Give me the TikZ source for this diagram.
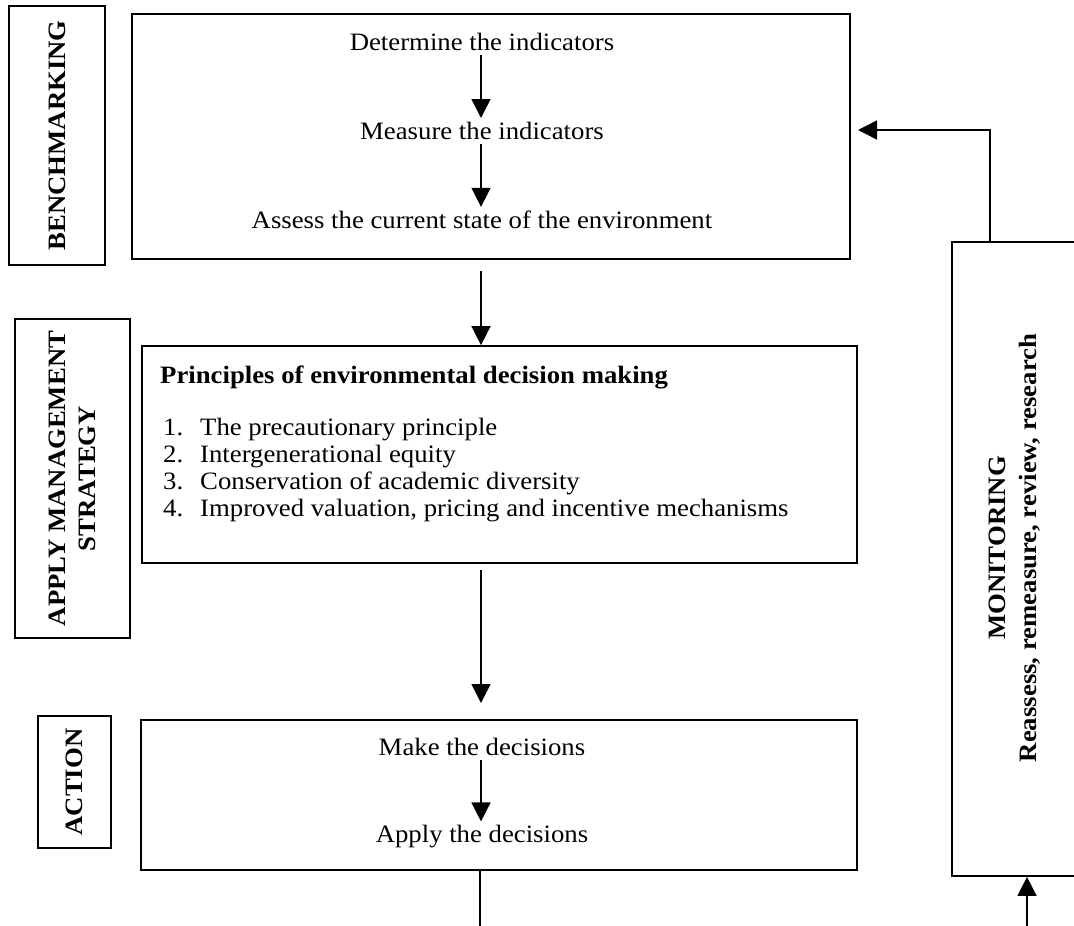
\documentclass[tikz,border=0pt]{standalone}
\usepackage{fontspec}
\setmainfont{Liberation Serif}[FakeStretch=1.07]
\usetikzlibrary{arrows.meta}
\begin{document}
\begin{tikzpicture}[x=1pt,y=-1pt,
  box/.style={draw,line width=1.7pt,rectangle,inner sep=0pt},
  lbl/.style={box,font=\fontsize{25}{29}\selectfont\bfseries,align=center},
  txt/.style={font=\fontsize{25}{29}\selectfont,inner sep=4pt},
  arr/.style={line width=1.5pt,-{Triangle[length=19pt,width=19pt]}},
  conn/.style={line width=1.7pt}]
\useasboundingbox (0,0) rectangle (1074,926);
\clip (0,0) rectangle (1074,926);
\fill[white] (0,0) rectangle (1074,926);
% left labels
\node[lbl,minimum width=96pt,minimum height=259pt] (bench) at (57,135.5) {};
\node[font=\fontsize{25}{29}\selectfont\bfseries,rotate=90] (benchT) at (bench.center) {BENCHMARKING};
\node[lbl,minimum width=115pt,minimum height=319pt] (apply) at (72.5,478.5) {};
\node[font=\fontsize{25}{30}\selectfont\bfseries,rotate=90,align=center] (applyT) at (apply.center) {APPLY MANAGEMENT\\STRATEGY};
\node[lbl,minimum width=73pt,minimum height=132pt] (action) at (74.5,782) {};
\node[font=\fontsize{25}{29}\selectfont\bfseries,rotate=90] (actionT) at (action.center) {ACTION};
% box 1
\node[box,minimum width=718pt,minimum height=245pt] (box1) at (491,136.5) {};
\node[txt] (t1) at (482,42) {Determine the indicators};
\node[txt] (t2) at (482,131) {Measure the indicators};
\node[txt] (t3) at (482,220) {Assess the current state of the environment};
\draw[arr] (t1.south -| 481,0) -- (t2.north -| 481,0);
\draw[arr] (t2.south -| 481,0) -- (t3.north -| 481,0);
% box 2
\node[box,minimum width=715pt,minimum height=217pt] (box2) at (499.5,454.5) {};
\node[txt,anchor=base west,font=\fontsize{25}{29}\selectfont\bfseries] (head) at (156,383) {Principles of environmental decision making};
\node[txt,anchor=base west] (n1) at (159,435) {1.};
\node[txt,anchor=base west] (n2) at (159,462) {2.};
\node[txt,anchor=base west] (n3) at (159,489) {3.};
\node[txt,anchor=base west] (n4) at (159,516) {4.};
\node[txt,anchor=base west] (i1) at (196,435) {The precautionary principle};
\node[txt,anchor=base west] (i2) at (196,462) {Intergenerational equity};
\node[txt,anchor=base west] (i3) at (196,489) {Conservation of academic diversity};
\node[txt,anchor=base west] (i4) at (196,516) {Improved valuation, pricing and incentive mechanisms};
% box 3
\node[box,minimum width=716pt,minimum height=150pt] (box3) at (499,795) {};
\node[txt] (t4) at (482,747) {Make the decisions};
\node[txt] (t5) at (482,837) {Apply the decisions};
\draw[arr] (t4.south -| 481,0) -- (t5.north -| 481,0);
% monitoring
\node[box,minimum width=138pt,minimum height=634pt] (mon) at (1021,559) {};
\node[font=\fontsize{25}{31}\selectfont\bfseries,rotate=90,align=center] (monT) at (1015,548) {MONITORING\\Reassess, remeasure, review, research};
% connectors
\coordinate (a1s) at (481,271);
\draw[arr] (a1s) -- (a1s |- box2.north);
\coordinate (a2s) at (481,570);
\coordinate (a2e) at (481,703);
\draw[arr] (a2s) -- (a2e);
\coordinate (fb) at (858,130);
\coordinate (fbc) at (990,130);
\draw[arr] (mon.north -| fbc) -- (fbc) -- (fb);
\coordinate (bin) at (1027,926);
\draw[arr] (bin) -- (bin |- mon.south);
\coordinate (bout) at (480,926);
\draw[conn] (box3.south -| bout) -- (bout);
\end{tikzpicture}
\end{document}
